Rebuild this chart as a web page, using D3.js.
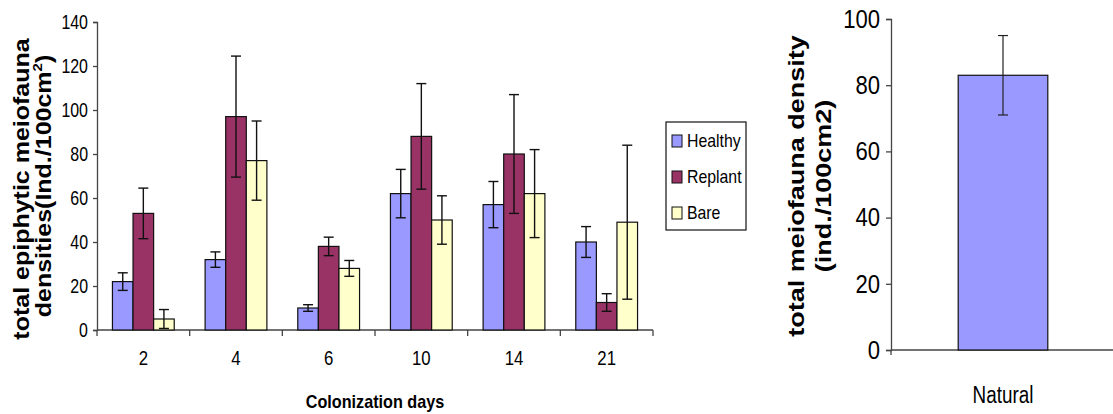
<!DOCTYPE html>
<html>
<head>
<meta charset="utf-8">
<script src="https://cdn.jsdelivr.net/npm/d3@7"></script>
<style>
  body { margin: 0; background: #fff; }
  svg { display: block; font-family: "Liberation Sans", Arial, sans-serif; }
</style>
</head>
<body>
<svg width="1113" height="414"></svg>
<script>
// values (ind./100cm2), with the +/- error
var days = ["2", "4", "6", "10", "14", "21"];
var series = ["Healthy", "Replant", "Bare"];
var healthy = [22, 32, 10, 62, 57, 40];
var healthyErr = [4, 3.5, 1.5, 11, 10.5, 7];
var replant = [53, 97, 38, 88, 80, 12.5];
var replantErr = [11.5, 27.5, 4.2, 24, 27, 4];
var bare = [5, 77, 28, 50, 62, 49];
var bareErr = [4.3, 18, 3.6, 11, 20, 35];
var leftTicks = [0, 20, 40, 60, 80, 100, 120, 140];

var sites = ["Natural"];
var natural = [83];
var naturalErr = [12];
var rightTicks = [0, 20, 40, 60, 80, 100];

var svg = d3.select("svg");
var font = "\"Liberation Sans\", Arial, sans-serif";

var vals = { Healthy: healthy, Replant: replant, Bare: bare };
var errs = { Healthy: healthyErr, Replant: replantErr, Bare: bareErr };
var data = days.map(function(d, i) {
  return { day: d, values: series.map(function(s) { return { key: s, value: vals[s][i], err: errs[s][i] }; }) };
});

var z = d3.scaleOrdinal().domain(series).range(["#9999ff", "#993366", "#ffffcc"]);

// ---------- left chart ----------
var x0 = d3.scaleBand().domain(days).range([97, 653]);
var x1 = d3.scaleBand().domain(series).range([0, x0.bandwidth()]).paddingOuter(0.75);
var y = d3.scaleLinear().domain([0, 140]).range([330, 22]);

var left = svg.append("g");

// y axis
var yAxis = left.append("g")
    .attr("transform", "translate(97,0)")
    .call(d3.axisLeft(y).tickValues(leftTicks).tickSize(4).tickFormat(d3.format("d")));
yAxis.select(".domain").attr("stroke", "#444").attr("stroke-width", 1.3);
yAxis.selectAll(".tick line").attr("stroke", "#444").attr("stroke-width", 1.3);
yAxis.selectAll(".tick text")
    .attr("x", null)
    .attr("transform", "translate(-9,0) scale(0.76,1)")
    .attr("font-size", 21)
    .attr("font-family", font)
    .attr("fill", "#000");

// x axis: line with ticks between the categories
left.append("line")
    .attr("x1", x0.range()[0]).attr("x2", x0.range()[1])
    .attr("y1", y(0)).attr("y2", y(0))
    .attr("stroke", "#444").attr("stroke-width", 1.3);
left.append("g").selectAll("line")
    .data(days.map(function(d) { return x0(d); }).concat([x0.range()[1]]))
    .enter().append("line")
      .attr("x1", function(d) { return d; }).attr("x2", function(d) { return d; })
      .attr("y1", y(0)).attr("y2", y(0) + 6)
      .attr("stroke", "#444").attr("stroke-width", 1.3);
left.append("g").selectAll("text")
    .data(days)
    .enter().append("text")
      .attr("transform", function(d) { return "translate(" + (x0(d) + x0.bandwidth() / 2) + ",365) scale(0.8,1)"; })
      .attr("text-anchor", "middle")
      .attr("font-size", 21)
      .text(function(d) { return d; });

// bars
var group = left.append("g")
  .selectAll("g")
  .data(data)
  .enter().append("g")
    .attr("transform", function(d) { return "translate(" + x0(d.day) + ",0)"; });

group.selectAll("rect")
  .data(function(d) { return d.values; })
  .enter().append("rect")
    .attr("x", function(d) { return x1(d.key); })
    .attr("y", function(d) { return y(d.value); })
    .attr("width", x1.bandwidth())
    .attr("height", function(d) { return y(0) - y(d.value); })
    .attr("fill", function(d) { return z(d.key); })
    .attr("stroke", "#111")
    .attr("stroke-width", 1.2);

// error bars
var err = group.selectAll("g.err")
  .data(function(d) { return d.values; })
  .enter().append("g")
    .attr("class", "err")
    .attr("stroke", "#111")
    .attr("stroke-width", 1.4);
err.append("line")
    .attr("x1", function(d) { return x1(d.key) + x1.bandwidth() / 2; })
    .attr("x2", function(d) { return x1(d.key) + x1.bandwidth() / 2; })
    .attr("y1", function(d) { return y(d.value + d.err); })
    .attr("y2", function(d) { return y(Math.max(0, d.value - d.err)); });
[1, -1].forEach(function(sign) {
  err.append("line")
      .attr("x1", function(d) { return x1(d.key) + x1.bandwidth() / 2 - 5; })
      .attr("x2", function(d) { return x1(d.key) + x1.bandwidth() / 2 + 5; })
      .attr("y1", function(d) { return y(Math.max(0, d.value + sign * d.err)); })
      .attr("y2", function(d) { return y(Math.max(0, d.value + sign * d.err)); });
});

// axis titles
left.append("text")
    .attr("transform", "translate(29,189) rotate(-90) scale(1,0.87)")
    .attr("text-anchor", "middle")
    .attr("font-size", 25)
    .attr("font-weight", "bold")
    .text("total epiphytic meiofauna");
var ltitle2 = left.append("text")
    .attr("transform", "translate(51,186) rotate(-90) scale(1,0.87)")
    .attr("text-anchor", "middle")
    .attr("font-size", 25)
    .attr("font-weight", "bold");
ltitle2.append("tspan").text("densities(Ind./100cm");
ltitle2.append("tspan").attr("font-size", 15).attr("dy", -10).text("2");
ltitle2.append("tspan").attr("dy", 10).text(")");

left.append("text")
    .attr("transform", "translate(" + ((x0.range()[0] + x0.range()[1]) / 2) + ",408) scale(0.9,1)")
    .attr("text-anchor", "middle")
    .attr("font-size", 18)
    .attr("font-weight", "bold")
    .text("Colonization days");

// legend
var legend = left.append("g").attr("transform", "translate(666,122)");
legend.append("rect")
    .attr("width", 80).attr("height", 108)
    .attr("fill", "#fff").attr("stroke", "#111").attr("stroke-width", 1.2);
var item = legend.selectAll("g")
  .data(series)
  .enter().append("g")
    .attr("transform", function(d, i) { return "translate(6," + (13 + i * 36) + ")"; });
item.append("rect")
    .attr("width", 10).attr("height", 12)
    .attr("fill", z)
    .attr("stroke", "#111").attr("stroke-width", 1);
item.append("text")
    .attr("transform", "translate(15,12) scale(0.88,1)")
    .attr("font-size", 18)
    .text(function(d) { return d; });

// ---------- right chart ----------
var xr = d3.scaleBand().domain(sites).range([891, 1115]).paddingOuter(0.75);
var yr = d3.scaleLinear().domain([0, 100]).range([350, 19]);

var right = svg.append("g");

var yrAxis = right.append("g")
    .attr("transform", "translate(891,0)")
    .call(d3.axisLeft(yr).tickValues(rightTicks).tickSize(5).tickFormat(d3.format("d")));
yrAxis.select(".domain").attr("stroke", "#444").attr("stroke-width", 1.3);
yrAxis.selectAll(".tick line").attr("stroke", "#444").attr("stroke-width", 1.3);
yrAxis.selectAll(".tick text")
    .attr("x", null)
    .attr("transform", "translate(-11,0) scale(0.85,1)")
    .attr("font-size", 26)
    .attr("font-family", font)
    .attr("fill", "#000");

right.append("line")
    .attr("x1", 891).attr("x2", 1113)
    .attr("y1", yr(0)).attr("y2", yr(0))
    .attr("stroke", "#444").attr("stroke-width", 1.3);
right.append("line")
    .attr("x1", 891).attr("x2", 891)
    .attr("y1", yr(0)).attr("y2", yr(0) + 5)
    .attr("stroke", "#444").attr("stroke-width", 1.3);

right.selectAll("rect.bar")
  .data(sites)
  .enter().append("rect")
    .attr("class", "bar")
    .attr("x", function(d) { return xr(d); })
    .attr("y", function(d, i) { return yr(natural[i]); })
    .attr("width", xr.bandwidth())
    .attr("height", function(d, i) { return yr(0) - yr(natural[i]); })
    .attr("fill", "#9999ff")
    .attr("stroke", "#111")
    .attr("stroke-width", 1.2);

var rerr = right.selectAll("g.err")
  .data(sites)
  .enter().append("g")
    .attr("stroke", "#222")
    .attr("stroke-width", 1.2);
rerr.append("line")
    .attr("x1", function(d) { return xr(d) + xr.bandwidth() / 2; })
    .attr("x2", function(d) { return xr(d) + xr.bandwidth() / 2; })
    .attr("y1", function(d, i) { return yr(natural[i] + naturalErr[i]); })
    .attr("y2", function(d, i) { return yr(natural[i] - naturalErr[i]); });
[1, -1].forEach(function(sign) {
  rerr.append("line")
      .attr("x1", function(d) { return xr(d) + xr.bandwidth() / 2 - 5; })
      .attr("x2", function(d) { return xr(d) + xr.bandwidth() / 2 + 5; })
      .attr("y1", function(d, i) { return yr(natural[i] + sign * naturalErr[i]); })
      .attr("y2", function(d, i) { return yr(natural[i] + sign * naturalErr[i]); });
});

right.selectAll("text.cat")
  .data(sites)
  .enter().append("text")
    .attr("class", "cat")
    .attr("transform", function(d) { return "translate(" + (xr(d) + xr.bandwidth() / 2) + ",403) scale(0.82,1)"; })
    .attr("text-anchor", "middle")
    .attr("font-size", 23)
    .text(function(d) { return d; });

right.append("text")
    .attr("transform", "translate(804,186) rotate(-90) scale(1,0.85)")
    .attr("text-anchor", "middle")
    .attr("font-size", 27)
    .attr("font-weight", "bold")
    .text("total meiofauna density");
right.append("text")
    .attr("transform", "translate(831,186) rotate(-90) scale(1,0.85)")
    .attr("text-anchor", "middle")
    .attr("font-size", 27)
    .attr("font-weight", "bold")
    .text("(ind./100cm2)");
</script>
</body>
</html>
